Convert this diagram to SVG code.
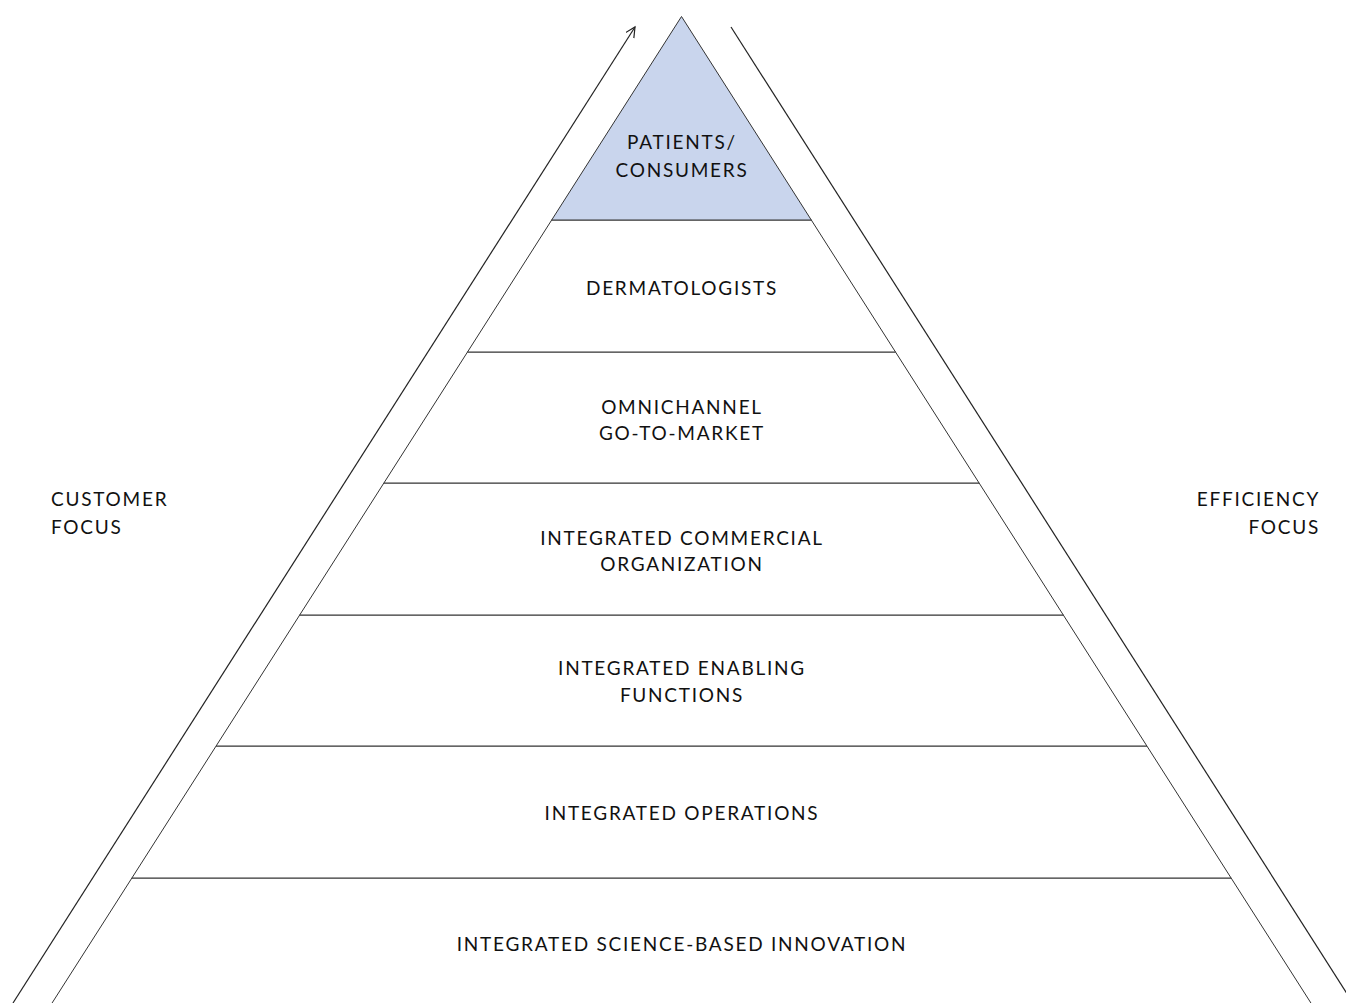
<svg xmlns="http://www.w3.org/2000/svg" width="1346" height="1003" viewBox="0 0 1346 1003">
<defs>
<marker id="open" markerWidth="12" markerHeight="12" refX="10" refY="5" orient="auto" markerUnits="userSpaceOnUse">
<path d="M0,0 L10,5 L0,10" fill="none" stroke="#222" stroke-width="1.2"/>
</marker>
<style>
.layer{fill:#ffffff;stroke:#333;stroke-width:1}
.top{fill:#c9d5ed;stroke:#333;stroke-width:1}
.t{font-family:Lato,"Open Sans","Liberation Sans",sans-serif;font-size:19px;letter-spacing:1.75px;fill:#111;text-anchor:middle}
.side{font-family:Lato,"Open Sans","Liberation Sans",sans-serif;font-size:19px;letter-spacing:1.75px;fill:#111}
.conn{stroke:#222;stroke-width:1.2;fill:none}
</style>
</defs>
<rect width="1346" height="1003" fill="#ffffff"/>
<g id="connectors">
<line class="conn" x1="13" y1="1003" x2="635" y2="27" marker-end="url(#open)"/>
<line class="conn" x1="731" y1="27" x2="1353" y2="1003"/>
</g>
<g id="layer-science">
<polygon class="layer" points="131.9,878 1231.1,878 1315.4,1010 47.6,1010"/>
<text class="t" x="682" y="951">INTEGRATED SCIENCE-BASED INNOVATION</text>
</g>
<g id="layer-operations">
<polygon class="layer" points="216.1,746 1146.9,746 1231.1,878 131.9,878"/>
<text class="t" x="682" y="820">INTEGRATED OPERATIONS</text>
</g>
<g id="layer-enabling">
<polygon class="layer" points="299.7,615 1063.3,615 1146.9,746 216.1,746"/>
<text class="t" x="682" y="675">INTEGRATED ENABLING</text>
<text class="t" x="682" y="702">FUNCTIONS</text>
</g>
<g id="layer-commercial">
<polygon class="layer" points="383.9,483 979.1,483 1063.3,615 299.7,615"/>
<text class="t" x="682" y="545">INTEGRATED COMMERCIAL</text>
<text class="t" x="682" y="571">ORGANIZATION</text>
</g>
<g id="layer-omnichannel">
<polygon class="layer" points="467.5,352 895.5,352 979.1,483 383.9,483"/>
<text class="t" x="682" y="414">OMNICHANNEL</text>
<text class="t" x="682" y="440">GO-TO-MARKET</text>
</g>
<g id="layer-dermatologists">
<polygon class="layer" points="551.7,220 811.3,220 895.5,352 467.5,352"/>
<text class="t" x="682" y="295">DERMATOLOGISTS</text>
</g>
<g id="layer-patients">
<polygon class="top" points="681.5,16.5 811.3,220 551.7,220"/>
<text class="t" x="682" y="149">PATIENTS/</text>
<text class="t" x="682" y="177">CONSUMERS</text>
</g>
<g id="label-customer">
<text class="side" x="51" y="506">CUSTOMER</text>
<text class="side" x="51" y="534">FOCUS</text>
</g>
<g id="label-efficiency">
<text class="side" x="1320" y="506" text-anchor="end">EFFICIENCY</text>
<text class="side" x="1320" y="534" text-anchor="end">FOCUS</text>
</g>
</svg>
